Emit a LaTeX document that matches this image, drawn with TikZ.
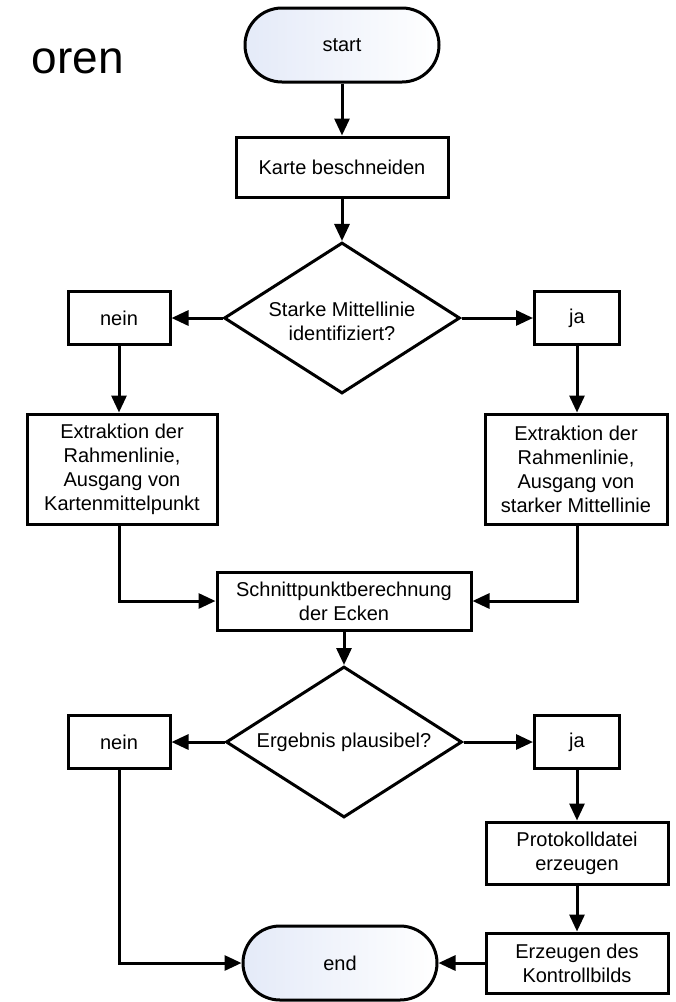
\documentclass[tikz,border=0pt]{standalone}
\usepackage{fontspec}
\setmainfont{Liberation Sans}
\usetikzlibrary{positioning}
\usetikzlibrary{arrows.meta}
\usetikzlibrary{shapes.geometric}

\begin{document}
\begin{tikzpicture}[x=1pt,y=-1pt,
    every node/.style={font=\fontsize{20}{24}\selectfont},
    box/.style={draw, line width=3pt, align=center, inner sep=0pt},
    terminal/.style={draw, line width=3pt, rounded corners=37pt,
        minimum width=194pt, minimum height=74pt,
        left color={rgb,255:red,228;green,234;blue,248}, right color=white},
    decision/.style={draw, diamond, line width=3pt, inner sep=0pt,
        minimum width=236pt, minimum height=151pt},
    arr/.style={-{Triangle[length=17pt,width=15pt]}, line width=3pt}]
        % page size of the reference
        \useasboundingbox (0,0) rectangle (676,1002);

        % Place the nodes
        \node[font=\fontsize{46}{50}\selectfont, anchor=base west] (title) at (28,73) {oren};
        \node[terminal] (start) at (342,45) {start};
        \node[box, minimum width=212pt, minimum height=60pt] (crop) at (342,167) {Karte beschneiden};
        \node[decision, label={[align=center, yshift=-3pt]center:Starke Mittellinie\\identifiziert?}] (strong) at (342,318) {};
        \node[box, minimum width=102pt, minimum height=53pt] (noA) at (119,318) {nein};
        \node[box, minimum width=85pt, minimum height=53pt] (yesA) at (577,318) {ja};
        \node[box, minimum width=190pt, minimum height=110pt] (extL) at (122,469) {Extraktion der\\Rahmenlinie,\\Ausgang von\\Kartenmittelpunkt};
        \node[box, minimum width=182pt, minimum height=110pt] (extR) at (576,469) {Extraktion der\\Rahmenlinie,\\Ausgang von\\starker Mittellinie};
        \node[box, minimum width=254pt, minimum height=58pt] (corners) at (344,601) {Schnittpunktberechnung\\der Ecken};
        \node[decision, label={[align=center]center:Ergebnis plausibel?}] (valid) at (344,742) {};
        \node[box, minimum width=102pt, minimum height=53pt] (noB) at (119,742) {nein};
        \node[box, minimum width=85pt, minimum height=53pt] (yesB) at (577,742) {ja};
        \node[box, minimum width=182pt, minimum height=62pt] (logfile) at (577,853) {Protokolldatei\\erzeugen};
        \node[box, minimum width=182pt, minimum height=60pt] (preview) at (577,963) {Erzeugen des\\Kontrollbilds};
        \node[terminal] (end) at (340,963) {end};

        % Draw the connectors
        \draw[arr] (start) -- (crop);
        \draw[arr] (crop) -- (strong);
        \draw[arr] (strong.west) -- (noA);
        \draw[arr] (strong.east) -- (yesA);
        \draw[arr] (noA.south) -- (noA.south |- extL.north);
        \draw[arr] (yesA.south) -- (yesA.south |- extR.north);
        \draw[arr] (noA.south |- extL.south) |- (corners);
        \draw[arr] (yesA.south |- extR.south) |- (corners);
        \draw[arr] (corners) -- (valid);
        \draw[arr] (valid.west) -- (noB);
        \draw[arr] (valid.east) -- (yesB);
        \draw[arr] (noB) |- (end);
        \draw[arr] (yesB) -- (logfile);
        \draw[arr] (logfile) -- (preview);
        \draw[arr] (preview) -- (end);
\end{tikzpicture}
\end{document}
